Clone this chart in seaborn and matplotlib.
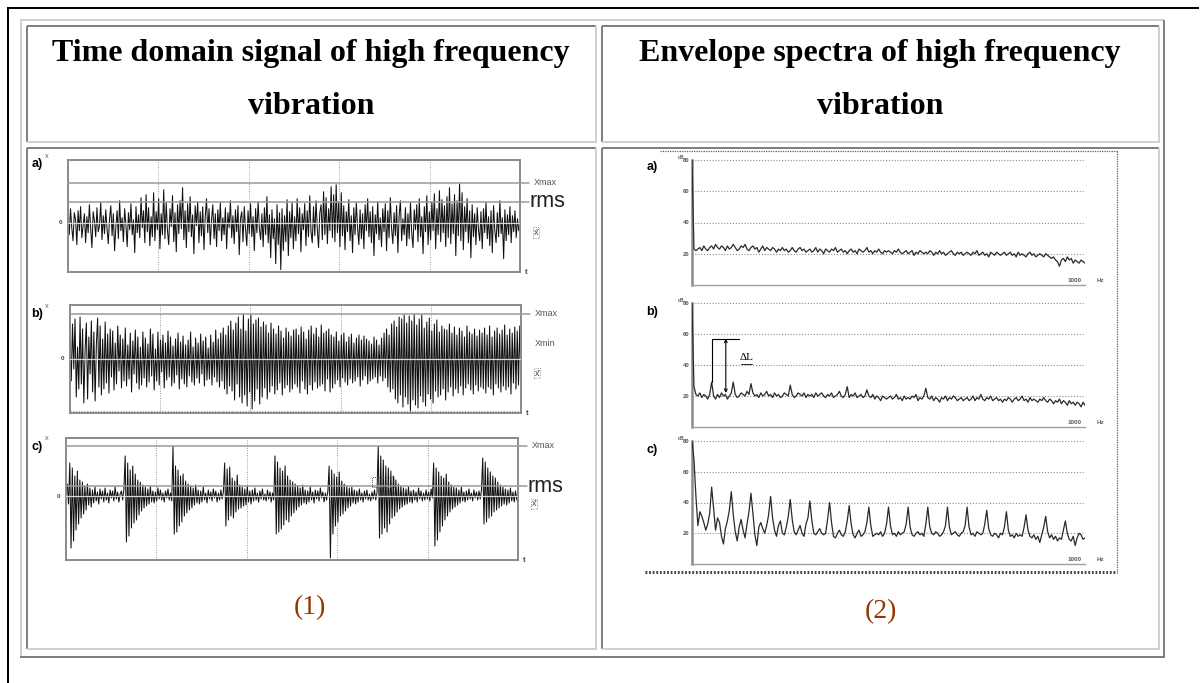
import numpy as np
import pandas as pd
import matplotlib
matplotlib.use("Agg")
import matplotlib.pyplot as plt
from matplotlib.patches import Rectangle
import seaborn as sns

W, H = 1200, 683

# ---------------- time-domain records (relative amplitude) ----------------
sig_a = [
    8, -12, 14, -5, -18, 10, 3, -22, 12, -8, 16, -15, -3, 9, -20, 6, -10, 18, -6, -25, 11, 2, -14, 15, -9, -3, 20, -17, 7, -11,
    13, -6, -21, 4, 17, -13, 9, -28, -4, 12, -16, 22, -8, 5, -19, 14, -2, -24, 10, -7, 19, -12, 3, -30, 16, -10, 8, -15, 25, -5,
    12, -20, 28, -9, 15, -23, 6, -14, 30, -18, 11, -7, 24, -26, 9, -12, 33, -16, 20, -8, -22, 14, -4, 27, -19, 10, -29, 18, -11, 22,
    -6, 35, -17, 12, -25, 19, -9, 26, -14, 8, -31, 17, -3, 21, -20, 11, -13, 16, -27, 6, 24, -10, 14, -22, 3, 18, -16, 9, -24, 13,
    -8, 20, -18, 5, -12, 15, -26, 10, -5, 22, -15, 7, -21, 13, -9, 17, -32, 4, 11, -19, 16, -7, -23, 12, -11, 19, -14, 6, -28, 14,
    -10, 21, -6, -17, 9, -24, 15, -12, 26, -20, 8, -35, 13, -16, 4, -41, 18, -22, 10, -47, 14, -28, 7, -19, 23, -33, 11, -15, 20, -26,
    6, -18, 24, -11, 15, -29, 9, -7, 19, -23, 12, -14, 27, -9, -20, 16, -13, 22, -6, -25, 10, 18, -17, 31, -12, 25, -21, 14, -8, 36,
    -15, 28, -19, 38, -10, 21, -24, 30, -13, 17, -27, 11, -9, 23, -18, 7, -30, 15, -12, 20, -5, -22, 13, -16, 9, -26, 18, -8, 24, -14,
    11, -20, 16, -33, 8, -11, 21, -17, 5, -24, 14, -9, 19, -28, 12, -15, 25, -6, -21, 10, -13, 17, -30, 7, 22, -18, 4, -12, 15, -23,
    9, -16, 20, -10, -25, 13, -7, 18, -19, 24, -14, 6, -31, 16, -9, 27, -22, 11, -17, 21, -8, 29, -26, 14, -12, 32, -19, 23, -10, 17,
    -24, 26, -15, 35, -21, 19, -11, 28, -33, 22, -13, 39, -18, 30, -27, 16, -9, 24, -20, 12, -35, 18, -14, 9, -22, 15, -7, -18, 11, -26,
    14, -10, 20, -16, 6, -23, 12, -30, 17, -8, -20, 10, -14, 22, -11, 5, -36, 13, -18, 8, -12, 16, -20, 7, -9, 12, -15, 4, -8, -3,
]
sig_b = [
    18, -22, 35, -10, 40, -38, 12, -30, 42, -25, 30, -44, 8, 36, -40, 22, -15, 38, -33, 27, -42, 15, 41, -28, 33, -36, 20, -30, 37, -24,
    25, -34, 30, -18, 28, -31, 16, -25, 33, -12, 24, -29, 20, -22, 31, -27, 14, -20, 26, -33, 18, -15, 29, -24, 22, -30, 12, -26, 27, -19,
    21, -28, 15, -23, 30, -17, 25, -31, 10, -22, 27, -26, 19, -13, 24, -29, 16, -21, 28, -18, 22, -27, 13, -24, 20, -16, 26, -30, 17, -20,
    23, -25, 14, -28, 19, -17, 27, -23, 12, -26, 21, -19, 16, -24, 25, -15, 18, -27, 22, -21, 11, -20, 24, -26, 17, -18, 29, -23, 20, -28,
    26, -22, 31, -30, 24, -35, 33, -27, 38, -32, 29, -41, 36, -25, 42, -38, 30, -44, 45, -36, 28, -47, 40, -33, 44, -50, 35, -42, 39, -30,
    41, -45, 32, -38, 37, -29, 34, -40, 26, -33, 36, -27, 30, -35, 25, -31, 33, -24, 28, -36, 21, -29, 31, -26, 27, -33, 23, -30, 29, -25,
    30, -28, 24, -34, 32, -22, 27, -30, 20, -35, 29, -26, 33, -31, 25, -23, 31, -29, 22, -27, 34, -25, 26, -32, 28, -20, 30, -33, 24, -29,
    22, -25, 27, -21, 18, -28, 24, -19, 26, -23, 17, -26, 22, -20, 25, -24, 16, -22, 21, -18, 24, -27, 19, -21, 23, -17, 20, -25, 18, -22,
    15, -20, 22, -18, 19, -24, 14, -17, 21, -22, 26, -19, 30, -28, 24, -33, 35, -30, 38, -40, 32, -44, 42, -36, 40, -48, 44, -38, 36, -45,
    43, -52, 38, -41, 45, -46, 34, -49, 40, -37, 44, -43, 31, -47, 37, -35, 41, -40, 28, -44, 35, -32, 39, -38, 27, -36, 33, -30, 30, -41,
    29, -33, 35, -28, 26, -37, 32, -30, 24, -34, 31, -27, 28, -36, 22, -29, 33, -25, 27, -31, 25, -35, 30, -26, 23, -32, 29, -28, 26, -30,
    31, -34, 24, -28, 33, -30, 22, -36, 28, -25, 31, -29, 25, -33, 29, -27, 34, -31, 24, -28, 30, -35, 26, -24, 32, -30, 28, -26, 33, -22,
]
sig_c = [
    6, 12, -8, 33, -52, 28, -45, 20, -34, 25, -28, 16, -22, 14, -18, 10, -14, 12, -9, 8, -11, 6, -7, 9, -5, 4, -8, 7, -3, 5, -6, 8, -4, 3, -7, 6, -2, 5, -5, 9, -3, 4, -6, 2,
    5, -4, 7, 40, -46, 33, -40, 26, -32, 30, -27, 22, -24, 16, -19, 14, -15, 11, -12, 9, -10, 7, -8, 10, -6, 5, -7, 4, -5, 8, -3, 6, -4, 3, -6, 5, -2, 7, -4, 3, -5,
    50, -38, 30, -36, 26, -30, 20, -26, 22, -20, 15, -17, 12, -14, 10, -12, 8, -9, 11, -7, 6, -8, 5, -6, 9, -4, 3, -7, 6, -3, 4, -5, 7, -2, 5, -6, 3, -4, 6, -3, 4,
    33, -30, 27, -24, 29, -20, 18, -22, 15, -16, 21, -13, 11, -12, 9, -10, 7, -9, 10, -6, 5, -8, 6, -5, 8, -4, 3, -6, 5, -3, 7, -4, 2, -5, 6, -3, 4, -6, 3, -4,
    40, -38, 34, -36, 28, -33, 25, -29, 30, -24, 20, -26, 16, -20, 14, -17, 12, -14, 10, -11, 8, -9, 11, -7, 6, -8, 5, -6, 9, -4, 4, -7, 6, -3, 5, -5, 8, -2, 4, -6, 3, -4, 5,
    30, -62, 26, -38, 22, -30, 19, -26, 24, -20, 15, -18, 12, -15, 10, -12, 8, -10, 9, -7, 6, -8, 5, -6, 7, -4, 3, -6, 5, -3, 6, -4, 2, -5, 4, -3, 6, -4, 3,
    50, -42, 40, -38, 36, -32, 30, -36, 28, -28, 25, -22, 20, -20, 16, -16, 12, -13, 10, -11, 8, -9, 7, -8, 9, -6, 5, -7, 6, -4, 4, -6, 8, -3, 5, -5, 3, -4, 6, -3, 4, -5, 7, -2,
    33, -50, 28, -44, 24, -36, 20, -30, 18, -24, 22, -20, 14, -16, 11, -13, 9, -11, 8, -9, 6, -7, 9, -5, 4, -6, 5, -4, 7, -3, 3, -5, 6, -2, 4, -4, 5, -3, 6,
    38, -28, 34, -26, 28, -22, 24, -20, 20, -16, 18, -14, 14, -12, 11, -10, 9, -8, 7, -9, 6, -7, 8, -5, 4, -6, 5, -3, -8,
]

# level markers of each record
levels_a = {"Xmax": 40, "rms": 21}
levels_b = {"Xmax": 45}
levels_c = {"Xmax": 50, "rms": 10}

# ---------------- envelope spectra (dB), 5 Hz bins, 0..1000 Hz ----------------
freq_step = 5
spec_a = [
    80, 23, 22, 23, 24, 22, 25, 23, 22, 24, 25, 23, 26, 24, 23, 25, 24, 22, 25, 23,
    24, 26, 24, 22, 23, 25, 24, 26, 23, 22, 24, 25, 23, 24, 21, 23, 25, 22, 24, 23,
    22, 24, 23, 21, 23, 22, 24, 22, 23, 21, 22, 24, 22, 21, 23, 24, 22, 23, 21, 22,
    23, 21, 22, 24, 21, 23, 22, 20, 23, 22, 21, 23, 22, 24, 21, 22, 23, 21, 22, 20,
    22, 23, 21, 22, 20, 23, 22, 21, 22, 24, 21, 22, 20, 22, 21, 23, 21, 20, 22, 21,
    22, 21, 20, 22, 21, 23, 21, 20, 21, 22, 20, 21, 22, 19, 21, 20, 22, 21, 20, 21,
    20, 22, 21, 19, 21, 20, 22, 20, 21, 19, 20, 21, 22, 20, 19, 21, 20, 21, 19, 20,
    21, 20, 19, 21, 20, 22, 19, 20, 21, 19, 20, 18, 21, 20, 19, 21, 20, 19, 20, 21,
    19, 20, 21, 19, 20, 18, 21, 19, 20, 19, 18, 20, 21, 19, 20, 18, 19, 20, 19, 18,
    20, 19, 18, 17, 18, 16, 15, 12, 16, 17, 15, 18, 16, 17, 14, 16, 15, 14, 16, 15,
    14,
]
spec_b = [
    80, 26, 21, 20, 22, 19, 21, 20, 18, 21, 29, 20, 18, 21, 19, 22, 20, 21, 18, 20,
    22, 29, 21, 19, 20, 22, 21, 20, 23, 21, 28, 22, 20, 21, 19, 22, 20, 21, 23, 20,
    21, 19, 22, 20, 21, 19, 20, 22, 21, 20, 27, 21, 19, 20, 22, 21, 20, 22, 19, 21,
    20, 21, 19, 22, 20, 21, 22, 20, 19, 21, 20, 22, 19, 20, 21, 23, 20, 19, 21, 26,
    19, 21, 20, 22, 19, 20, 21, 19, 20, 24, 20, 19, 21, 18, 20, 19, 17, 20, 19, 18,
    19, 20, 18, 19, 21, 18, 19, 17, 20, 18, 19, 18, 20, 19, 21, 17, 19, 18, 20, 25,
    19, 18, 20, 17, 19, 18, 16, 19, 18, 20, 17, 19, 18, 20, 19, 17, 18, 19, 17, 18,
    19, 17, 18, 20, 17, 19, 18, 21, 18, 17, 19, 18, 20, 17, 18, 19, 17, 18, 16, 18,
    17, 19, 18, 16, 18, 19, 17, 18, 20, 17, 18, 16, 19, 17, 18, 17, 16, 18, 17, 19,
    17, 16, 18, 17, 15, 17, 16, 18, 15, 17, 16, 14, 17, 15, 16, 14, 16, 15, 13, 16,
    14,
]
spec_c = [
    80, 68, 44, 25, 34, 31, 27, 22, 26, 33, 50, 36, 22, 30, 27, 18, 13, 23, 28, 35,
    47, 32, 21, 15, 24, 29, 22, 17, 26, 34, 46, 33, 19, 12, 24, 27, 23, 20, 25, 32,
    44, 30, 22, 18, 25, 28, 20, 19, 24, 31, 42, 29, 21, 19, 22, 25, 20, 18, 26, 30,
    41, 28, 20, 19, 21, 23, 20, 19, 20, 29, 40, 27, 18, 17, 20, 22, 19, 18, 21, 28,
    38, 26, 19, 17, 20, 22, 18, 19, 21, 27, 37, 25, 18, 19, 20, 19, 21, 18, 20, 26,
    37, 25, 19, 20, 18, 21, 19, 20, 21, 26, 37, 24, 19, 18, 20, 21, 19, 20, 18, 26,
    37, 24, 20, 19, 21, 20, 18, 19, 21, 25, 37, 24, 19, 20, 21, 19, 18, 20, 21, 25,
    37, 24, 19, 20, 18, 21, 20, 19, 20, 26, 35, 23, 19, 18, 20, 19, 17, 20, 19, 24,
    34, 22, 18, 19, 17, 20, 18, 19, 18, 24, 32, 22, 18, 17, 19, 16, 18, 14, 19, 24,
    31, 21, 17, 19, 16, 18, 15, 17, 16, 22, 28, 20, 16, 15, 18, 12, 17, 20, 19, 16,
    17,
]
db_ticks = [20, 40, 60, 80]

# modulation depth marker on record b): peak bin, arrow bin, top and base levels
dl_peak_hz, dl_arrow_hz, dl_end_hz = 50, 86, 120
dl_top, dl_base = 57, 22

header_left = ["Time domain signal of high frequency", "vibration"]
header_right = ["Envelope spectra of high frequency", "vibration"]

# ---------------- figure ----------------
sns.set_style("white")
plt.rcParams["font.family"] = ["Liberation Sans", "DejaVu Sans"]
plt.rcParams["text.color"] = "black"

fig = plt.figure(figsize=(W / 100, H / 100), dpi=100, facecolor="white")
bg = fig.add_axes([0, 0, 1, 1])
bg.set_xlim(0, W)
bg.set_ylim(H, 0)
bg.axis("off")

PX = 0.72  # points per pixel at 100 dpi
DARK, LIGHT = "#808080", "#d4d0c8"


def seg(x0, y0, x1, y1, color, lw_px, **kw):
    bg.plot([x0, x1], [y0, y1], color=color, lw=lw_px * PX,
            solid_capstyle="butt", dash_capstyle="butt", **kw)


# page frame
seg(7, 8, 1199, 8, "black", 2)
seg(8, 7, 8, H, "black", 2)
seg(1199.5, 8, 1199.5, H, "#c0c0c0", 1)

# table frame (raised)
seg(20, 20, 1164, 20, LIGHT, 2)
seg(21, 20, 21, 658, LIGHT, 2)
seg(1163.5, 20, 1163.5, 658, DARK, 2)
seg(20, 657, 1164, 657, DARK, 2)

# cells (sunken)
for (x0, y0, x1, y1) in [(27, 26, 596, 142), (602, 26, 1159, 142),
                         (27, 148, 596, 649), (602, 148, 1159, 649)]:
    seg(x0, y0, x1, y0, DARK, 2)
    seg(x0, y0, x0, y1, DARK, 2)
    seg(x0, y1, x1 + 1, y1, LIGHT, 2)
    seg(x1, y0, x1, y1, LIGHT, 2)

serif = ["Liberation Serif", "DejaVu Serif"]
for cx, lines in [(311, header_left), (880, header_right)]:
    for yb, txt in zip([61, 114], lines):
        bg.text(cx, yb, txt, ha="center", va="baseline", fontsize=23,
                fontweight="bold", family=serif, color="black")
bg.text(310, 608, "(1)", ha="center", va="center", fontsize=20,
        family=serif, color="#993300")
bg.text(881, 612, "(2)", ha="center", va="center", fontsize=20,
        family=serif, color="#993300")


def px_axes(x0, y0, x1, y1):
    return fig.add_axes([x0 / W, 1 - y1 / H, (x1 - x0) / W, (y1 - y0) / H])


def time_panel(rect, sig, ylim, levels, label, lab_xy, extra_labels):
    ax = px_axes(*rect)
    ax.set_facecolor("white")
    df = pd.DataFrame({"t": np.linspace(0, 1, len(sig)), "x": sig})
    sns.lineplot(data=df, x="t", y="x", ax=ax, color="#111111", lw=0.75,
                 estimator=None, errorbar=None, sort=False, zorder=2)
    ax.set_xlim(0, 1)
    ax.set_ylim(*ylim)
    for v in [0.2, 0.4, 0.6, 0.8]:
        ax.axvline(v, color="#999999", lw=0.7, ls=(0, (1, 1.5)), zorder=1)
    ax.axhline(0, color="#d8d8d8", lw=0.9, zorder=3)
    ytr = ax.get_yaxis_transform()
    for name, val in levels.items():
        ax.plot([0, 1.02], [val, val], transform=ytr, color="#9a9a9a",
                lw=1.1, clip_on=False, zorder=3)
        if name == "rms":
            ax.text(1.02, val, "rms", transform=ytr, ha="left", va="center",
                    fontsize=15.5, color="#222222")
        else:
            ax.text(1.03, val, "Xmax", transform=ytr, ha="left", va="center",
                    fontsize=6.5, color="#555555")
    for txt, val, kw in extra_labels:
        ax.text(1.03, val, txt, transform=ytr, ha="left", va="center", **kw)
    ax.text(-0.012, 0, "0", transform=ytr, ha="right", va="center",
            fontsize=4.5, fontweight="bold", color="#444444")
    ax.text(1.01, 0.0, "t", transform=ax.transAxes, ha="left", va="center",
            fontsize=5.5, fontweight="bold", color="#444444")
    for s in ax.spines.values():
        s.set_color("#8a8a8a")
        s.set_linewidth(1.4)
    ax.set_xticks([])
    ax.set_yticks([])
    ax.set_xlabel("")
    ax.set_ylabel("")
    bg.text(lab_xy[0], lab_xy[1], label, ha="center", va="center",
            fontsize=9, fontweight="bold")
    bg.text(lab_xy[0] + 10, lab_xy[1] - 8, "X", ha="center", va="center",
            fontsize=4, color="#444444")
    return ax


xbar_kw = dict(fontsize=6.5, color="#444444",
               bbox=dict(boxstyle="square,pad=0.1", fc="none", ec="#777777",
                         ls=":", lw=0.6))

time_panel((68, 160, 520, 272), sig_a, (-49.3, 62.7), levels_a, "a)", (37, 164),
           [("x̄", -10, xbar_kw)])
axb = time_panel((70, 305, 521, 413), sig_b, (-54, 54), levels_b, "b)", (37, 314),
                 [("Xmin", 16, dict(fontsize=6.5, color="#555555")),
                  ("x̄", -14, xbar_kw)])
axb.axhline(-52, color="#999999", lw=0.8, ls=(0, (1, 1.5)), zorder=1)
axc = time_panel((66, 438, 518, 560), sig_c, (-64, 58), levels_c, "c)", (37, 447),
                 [("x̄", -8, xbar_kw)])
axc.add_patch(Rectangle((0.676, 9), 0.049, 10, fill=False, ec="#555555",
                        lw=0.7, ls=(0, (1, 1)), zorder=4))


def spec_panel(rect, spec, label, lab_xy):
    ax = px_axes(*rect)
    ax.set_facecolor("none")
    f = np.arange(len(spec)) * freq_step
    df = pd.DataFrame({"f": f, "dB": spec})
    sns.lineplot(data=df, x="f", y="dB", ax=ax, color="#2a2a2a", lw=0.9,
                 estimator=None, errorbar=None, zorder=3)
    ax.set_xlim(0, 1000)
    ax.set_ylim(0, 80)
    for v in db_ticks:
        ax.axhline(v, color="#8c8c8c", lw=0.8, ls=(0, (1, 1.6)), zorder=1,
                   clip_on=False)
    for side in ["top", "right"]:
        ax.spines[side].set_visible(False)
    ax.spines["left"].set_color("#8a8a8a")
    ax.spines["left"].set_linewidth(1.8)
    ax.spines["bottom"].set_color("#a0a0a0")
    ax.spines["bottom"].set_linewidth(1.0)
    ax.set_xticks([])
    ax.set_yticks(db_ticks)
    ax.set_yticklabels([str(v) for v in db_ticks], fontsize=4.2,
                       fontweight="bold", color="#555555")
    ax.tick_params(axis="y", length=0, pad=2)
    ax.set_xlabel("")
    ax.set_ylabel("")
    ax.text(-0.02, 1.0, "dB", transform=ax.transAxes, ha="right", va="bottom",
            fontsize=3.5, fontweight="bold", color="#555555")
    ax.text(0.99, 0.015, "1000", transform=ax.transAxes, ha="right",
            va="bottom", fontsize=4.5, fontweight="bold", color="#555555")
    ax.text(1.03, 0.015, "Hz", transform=ax.transAxes, ha="left",
            va="bottom", fontsize=4.5, fontweight="bold", color="#666666")
    bg.text(lab_xy[0], lab_xy[1], label, ha="center", va="center",
            fontsize=9, fontweight="bold")
    return ax


spec_panel((692, 160, 1085, 285), spec_a, "a)", (652, 167))
sb = spec_panel((692, 303, 1085, 427), spec_b, "b)", (652, 312))
spec_panel((692, 441, 1085, 564), spec_c, "c)", (652, 450))

# modulation depth ΔL
peak_val = spec_b[dl_peak_hz // freq_step]
sb.plot([dl_peak_hz, dl_peak_hz], [peak_val, dl_top], color="black", lw=0.8, zorder=4)
sb.plot([dl_peak_hz, dl_end_hz], [dl_top, dl_top], color="black", lw=0.8, zorder=4)
sb.annotate("", xy=(dl_arrow_hz, dl_base), xytext=(dl_arrow_hz, dl_top),
            arrowprops=dict(arrowstyle="<->", lw=0.8, color="black",
                            mutation_scale=5, shrinkA=0, shrinkB=0), zorder=4)
sb.text(138, 45, "ΔL", ha="center", va="center", fontsize=8, family=serif,
        bbox=dict(fc="white", ec="none", pad=0.5), zorder=5)
sb.plot([124, 152], [40.5, 40.5], color="black", lw=0.6, zorder=5)

# dotted outline of the spectra block
seg(660, 151, 1117, 151, "#555555", 1.2, ls=(0, (1, 1)))
seg(1117, 151, 1117, 572, "#555555", 1.2, ls=(0, (1, 1)))
seg(645, 572, 1117, 572, "#444444", 3, ls=(0, (0.6, 0.6)))

fig.savefig("out.png", dpi=100, facecolor="white")
